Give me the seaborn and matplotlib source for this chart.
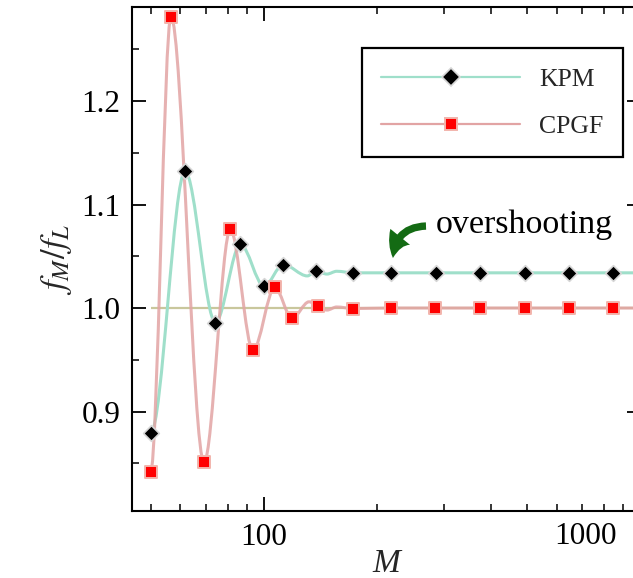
import numpy as np
import matplotlib
matplotlib.use("Agg")
import matplotlib.pyplot as plt
import seaborn as sns
from matplotlib.path import Path
from matplotlib.patches import PathPatch
from matplotlib.lines import Line2D
from matplotlib.ticker import FixedLocator, NullFormatter, MultipleLocator, FormatStrFormatter

# ---- data -------------------------------------------------------------
# sampled points (markers)
kpm_M = [50, 61.7, 74.3, 86.6, 100, 112.5, 137.4, 172.7, 217.8, 285.5, 375, 494, 647, 847]
kpm_ratio = [0.879, 1.132, 0.986, 1.0615, 1.021, 1.042, 1.0355, 1.034, 1.034, 1.034,
             1.034, 1.034, 1.034, 1.034]

cpgf_M = [50, 56.6, 69.3, 81.4, 93.5, 106.8, 118.7, 138.9, 172.7, 217, 285, 375, 494, 647, 847]
cpgf_ratio = [0.842, 1.2815, 0.851, 1.076, 0.959, 1.020, 0.990, 1.002, 0.9995, 1.0, 1.0,
              1.0, 1.0, 1.0, 1.0]

# extra turning points of the continuous curves between the samples
kpm_turn_M = [130.3, 147, 156, 1000]
kpm_turn_ratio = [1.031, 1.0328, 1.0355, 1.034]
cpgf_turn_M = [131.7, 147, 156, 1000]
cpgf_turn_ratio = [1.006, 0.998, 1.001, 1.0]

reference_level = 1.0
x_ticks = [100, 1000]
x_tick_labels = ["100", "1000"]
y_ticks = [0.9, 1.0, 1.1, 1.2]

# ---- style ------------------------------------------------------------
sns.set_theme(style="ticks")
plt.rcParams["font.family"] = ["Liberation Serif", "DejaVu Serif"]
plt.rcParams["mathtext.fontset"] = "stix"

teal = "#9fdfca"
pink = "#e2a4a4"
olive = "#c9c79c"
tick_size = 22.5

fig = plt.figure(figsize=(6.33, 5.78), dpi=100)
W, H = 633, 578
ax = fig.add_axes([132 / W, 1 - 511 / H, (640.5 - 132) / W, (511 - 7) / H])
ax.set_xscale("log")
ax.set_xlim(44.6, 1000)
ax.set_ylim(0.8039, 1.2908)


def smooth_path(m, v):
    """Monotone cubic (PCHIP) curve through the points, as Bezier segments in log-x."""
    order = np.argsort(m)
    m = np.asarray(m, float)[order]
    y = np.asarray(v, float)[order]
    x = np.log10(m)
    h = np.diff(x)
    delta = np.diff(y) / h
    n = len(x)
    d = np.zeros(n)
    for k in range(1, n - 1):
        if delta[k - 1] * delta[k] > 0:
            w1 = 2 * h[k] + h[k - 1]
            w2 = h[k] + 2 * h[k - 1]
            d[k] = (w1 + w2) / (w1 / delta[k - 1] + w2 / delta[k])
    verts = [(m[0], y[0])]
    codes = [Path.MOVETO]
    for k in range(n - 1):
        c1 = (10 ** (x[k] + h[k] / 3), y[k] + d[k] * h[k] / 3)
        c2 = (10 ** (x[k + 1] - h[k] / 3), y[k + 1] - d[k + 1] * h[k] / 3)
        verts += [c1, c2, (m[k + 1], y[k + 1])]
        codes += [Path.CURVE4] * 3
    return Path(verts, codes)


# reference level
ax.hlines(reference_level, 50, 1000, color=olive, lw=1.6, zorder=1)

# continuous curves
kpm_path = smooth_path(kpm_M + kpm_turn_M, kpm_ratio + kpm_turn_ratio)
cpgf_path = smooth_path(cpgf_M + cpgf_turn_M, cpgf_ratio + cpgf_turn_ratio)
ax.add_patch(PathPatch(kpm_path, fill=False, edgecolor=teal, lw=2.2, zorder=2,
                       capstyle="round", joinstyle="round"))
ax.add_patch(PathPatch(cpgf_path, fill=False, edgecolor=pink, lw=2.2, zorder=3, alpha=0.85,
                       capstyle="round", joinstyle="round"))

# sample markers
sns.scatterplot(x=kpm_M, y=kpm_ratio, ax=ax, marker="D", s=64, color="black",
                edgecolor="#d6d6d6", linewidth=1.2, zorder=5, legend=False)
sns.scatterplot(x=cpgf_M, y=cpgf_ratio, ax=ax, marker="s", s=72, color="#ff0000",
                edgecolor="#f2b4ac", linewidth=1.4, zorder=5, legend=False)

# ---- axes -------------------------------------------------------------
for sp in ax.spines.values():
    sp.set_linewidth(1.5)
    sp.set_color("black")

ax.xaxis.set_major_locator(FixedLocator(x_ticks))
ax.xaxis.set_major_formatter(matplotlib.ticker.FixedFormatter([x_tick_labels[0], ""]))
ax.xaxis.set_minor_locator(matplotlib.ticker.LogLocator(base=10, subs=np.arange(2, 10)))
ax.xaxis.set_minor_formatter(NullFormatter())
ax.yaxis.set_major_locator(FixedLocator(y_ticks))
ax.yaxis.set_major_formatter(FormatStrFormatter("%.1f"))
ax.yaxis.set_minor_locator(MultipleLocator(0.05))

ax.tick_params(which="both", direction="in", top=True, right=True, colors="black",
               labelsize=tick_size)
ax.tick_params(which="major", length=10, width=1.3, pad=8.5)
ax.tick_params(which="minor", length=5, width=1.1)

# the "1000" label sits left of its tick
ax.annotate(x_tick_labels[1], xy=(x_ticks[1], 0), xycoords=ax.get_xaxis_transform(),
            xytext=(-55, -11.5), textcoords="offset pixels", ha="center", va="top",
            fontsize=tick_size, color="black", annotation_clip=False)

ax.set_xlabel("M", fontsize=24, fontstyle="italic")
ax.xaxis.set_label_coords(0.5, -0.075)
ax.set_ylabel("$f_M/f_L$", fontsize=25)
ax.yaxis.set_label_coords(-0.114, 0.5)

# ---- legend -----------------------------------------------------------
handles = [
    Line2D([], [], color=teal, lw=1.6, marker="D", ms=9, mfc="black", mec="#d6d6d6", mew=1.2),
    Line2D([], [], color=pink, lw=1.6, marker="s", ms=9, mfc="#ff0000", mec="#f2b4ac", mew=1.4),
]
leg = ax.legend(handles, ["KPM", "CPGF"], loc="upper right",
                bbox_to_anchor=(622.7 / W, 1 - 48.3 / H), bbox_transform=fig.transFigure,
                borderaxespad=0, fontsize=18.5, handlelength=5.4, handletextpad=0.75,
                labelspacing=0.95, borderpad=0.75, numpoints=1, fancybox=False,
                framealpha=1, edgecolor="black")
leg.get_frame().set_linewidth(1.6)

# ---- annotation -------------------------------------------------------
ax.text(285, 1.0725, "overshooting", fontsize=24.5, ha="left", va="baseline", color="black")
ax.annotate("", xy=(220, 1.0483), xytext=(269.3, 1.0792),
            arrowprops=dict(arrowstyle="simple,head_length=1.15,head_width=1.3,tail_width=0.38",
                            connectionstyle="arc3,rad=0.45", color="#146b14", lw=0,
                            shrinkA=0, shrinkB=0, mutation_scale=14))

fig.savefig("out.png", dpi=100)
